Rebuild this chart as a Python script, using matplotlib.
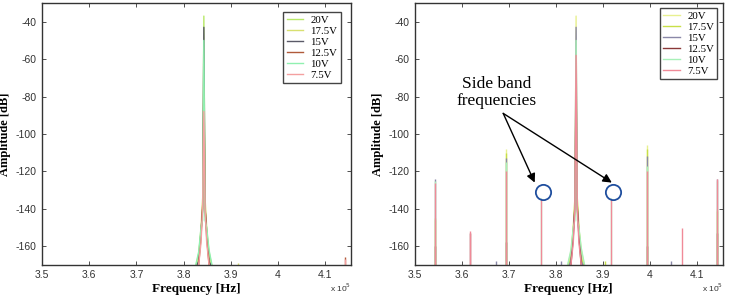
import numpy as np
import matplotlib.pyplot as plt
from matplotlib.ticker import FuncFormatter

plt.rcParams['axes.unicode_minus'] = False

# frequencies in units of 1e5 Hz
labels = ['20V', '17.5V', '15V', '12.5V', '10V', '7.5V']
colors_left = ['#b8e868', '#d8e070', '#5a5a68', '#b05a3a', '#90f0b0', '#f4a0a0']
colors_right = ['#e8f090', '#c8e048', '#8a88a8', '#8a3838', '#a8f0b8', '#f08a98']

# carrier peak shape (spectrum samples around the carrier)
carrier_f = [3.825, 3.832, 3.837, 3.8405, 3.843, 3.8455, 3.849, 3.854, 3.861]
left_carrier = {
    '20V':   [-172, -164, -152, -140, -37, -140, -152, -163, -172],
    '17.5V': [-172, -166, -150, -134, -68, -134, -150, -166, -172],
    '15V':   [-172, -168, -152, -140, -43, -140, -152, -168, -172],
    '12.5V': [-172, -170, -155, -138, -75, -138, -155, -170, -172],
    '10V':   [-171, -163, -150, -146, -50, -146, -150, -162, -171],
    '7.5V':  [-172, -170, -158, -140, -88, -140, -158, -170, -172],
}
right_carrier = {
    '20V':   [-171, -163, -151, -140, -37, -140, -151, -162, -171],
    '17.5V': [-172, -166, -150, -134, -68, -134, -150, -166, -172],
    '15V':   [-172, -168, -152, -140, -43, -140, -152, -168, -172],
    '12.5V': [-172, -170, -155, -138, -75, -138, -155, -170, -172],
    '10V':   [-170, -162, -150, -146, -50, -146, -150, -161, -170],
    '7.5V':  [-172, -170, -158, -140, -58, -140, -158, -170, -172],
}

# small stray spikes on the left panel
left_spike_f = [3.915, 4.143]
left_spikes = {
    '20V':   [-172, -172],
    '17.5V': [-169, -172],
    '15V':   [-172, -172],
    '12.5V': [-172, -166],
    '10V':   [-172, -172],
    '7.5V':  [-172, -167],
}

# side band spikes on the right panel
side_f = [3.543, 3.618, 3.693, 3.768, 3.918, 3.993, 4.068, 4.143,
          3.672, 3.810, 3.905, 4.045]
right_spikes = {
    '20V':   [-146, -172, -108, -172, -172, -106, -172, -140, -172, -172, -172, -172],
    '17.5V': [-145, -172, -110, -172, -172, -108, -172, -141, -172, -172, -168, -172],
    '15V':   [-124, -172, -113, -172, -172, -112, -172, -124, -168, -168, -172, -168],
    '12.5V': [-160, -153, -158, -172, -172, -160, -172, -153, -172, -172, -172, -172],
    '10V':   [-125, -172, -115, -134, -134, -117, -172, -125, -172, -172, -172, -172],
    '7.5V':  [-126, -152, -120, -135, -135, -120, -150, -124, -172, -172, -172, -172],
}

yticks = [-160, -140, -120, -100, -80, -60, -40]
xticks = [3.5, 3.6, 3.7, 3.8, 3.9, 4.0, 4.1]
tick_font = ['Liberation Sans Narrow', 'Liberation Sans']

fig = plt.figure(figsize=(7.29, 2.98), dpi=100)
ax1 = fig.add_axes([0.0576, 0.111, 0.424, 0.879])
ax2 = fig.add_axes([0.569, 0.111, 0.4225, 0.879])


def style(ax, legend_anchor):
    ax.set_xlim(3.5, 4.155)
    ax.set_ylim(-170, -30)
    ax.set_xticks(xticks)
    ax.set_yticks(yticks)
    ax.xaxis.set_major_formatter(FuncFormatter(lambda v, p: '%g' % round(v, 2)))
    ax.tick_params(direction='in', top=True, right=True, length=3, width=0.6,
                   labelsize=7.5, colors='#333333', pad=4)
    for lab in ax.get_xticklabels() + ax.get_yticklabels():
        lab.set_family(tick_font)
    for s in ax.spines.values():
        s.set_color('#333333')
        s.set_linewidth(1.0)
    ax.set_xlabel('Frequency [Hz]', family='Liberation Serif', fontweight='bold',
                  fontsize=9.5, labelpad=2)
    ax.set_ylabel('Amplitude [dB]', family='Liberation Serif', fontweight='bold',
                  fontsize=9, labelpad=3)
    ax.text(1.0, -0.088, r'x 10$^5$', transform=ax.transAxes, fontsize=6,
            family=tick_font, ha='right', va='center', color='#333333')
    leg = ax.legend(loc='upper right', prop={'family': 'Liberation Serif', 'size': 7.8},
                    handlelength=1.5, labelspacing=0.12, borderpad=0.3,
                    handletextpad=0.7, fancybox=False, framealpha=1,
                    bbox_to_anchor=legend_anchor)
    leg.get_frame().set_edgecolor('#444444')
    leg.get_frame().set_linewidth(1.0)


for lab, col in zip(labels, colors_left):
    ax1.plot(carrier_f, left_carrier[lab], color=col, lw=1.0, label=lab)
    ax1.vlines(left_spike_f, -175, left_spikes[lab], color=col, lw=1.0)

for lab, col in zip(labels, colors_right):
    ax2.plot(carrier_f, right_carrier[lab], color=col, lw=1.0, label=lab)
    ax2.vlines(side_f, -175, right_spikes[lab], color=col, lw=1.0)

style(ax1, (0.984, 0.985))
style(ax2, (1.0, 1.0))

# annotation of side band frequencies
circle_x = [3.772, 3.921]
circle_y = [-131, -131]
ax2.plot(circle_x, circle_y, 'o', ms=11, mfc='none', mec='#1f4e9e', mew=1.3)
ax2.text(3.674, -78, 'Side band\nfrequencies', ha='center', va='center',
         fontsize=12.5, family='Liberation Serif', linespacing=1.05)
for tip_x in [3.755, 3.919]:
    ax2.annotate('', xy=(tip_x, -126), xytext=(3.688, -89),
                 arrowprops=dict(arrowstyle='-|>', color='black', lw=1.0,
                                 mutation_scale=13, shrinkA=0, shrinkB=0))

fig.savefig('out.png', dpi=100)
